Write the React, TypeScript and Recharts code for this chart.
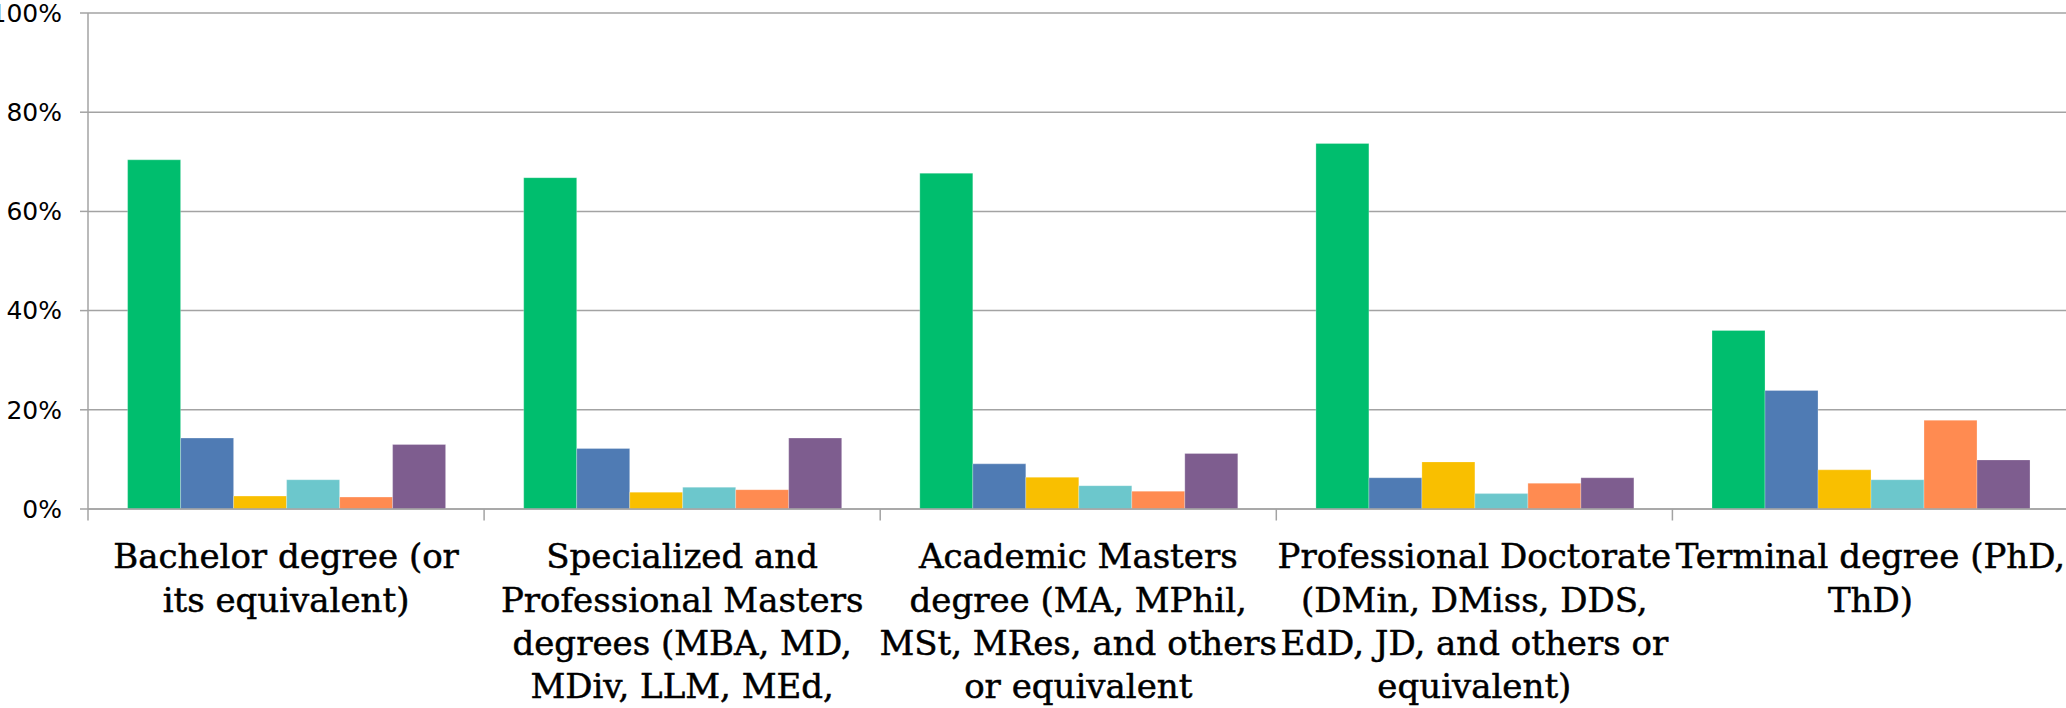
import { BarChart, Bar, XAxis, YAxis, CartesianGrid } from 'recharts'

// Degree categories (line breaks as they wrap under the axis)
const categories = [
  'Bachelor degree (or\nits equivalent)',
  'Specialized and\nProfessional Masters\ndegrees (MBA, MD,\nMDiv, LLM, MEd,',
  'Academic Masters\ndegree (MA, MPhil,\nMSt, MRes, and others\nor equivalent',
  'Professional Doctorate\n(DMin, DMiss, DDS,\nEdD, JD, and others or\nequivalent)',
  'Terminal degree (PhD,\nThD)',
]

// Six response series, percent of respondents
const series1 = [70.4, 66.8, 67.7, 73.7, 36.0]
const series2 = [14.3, 12.2, 9.1, 6.3, 23.9]
const series3 = [2.6, 3.4, 6.4, 9.5, 7.9]
const series4 = [5.9, 4.4, 4.7, 3.1, 5.9]
const series5 = [2.4, 3.9, 3.6, 5.2, 17.9]
const series6 = [13.0, 14.3, 11.2, 6.3, 9.9]

const yTicks = [0, 20, 40, 60, 80, 100]

const SERIES = [
  { key: 's1', values: series1, color: '#00BE6E' },
  { key: 's2', values: series2, color: '#4F7BB4' },
  { key: 's3', values: series3, color: '#F9BF00' },
  { key: 's4', values: series4, color: '#6CC7CC' },
  { key: 's5', values: series5, color: '#FF8B51' },
  { key: 's6', values: series6, color: '#7E5D8F' },
]

const data = categories.map((name, i) => {
  const row: { [k: string]: string | number } = { name }
  SERIES.forEach((s) => {
    row[s.key] = s.values[i]
  })
  return row
})

const CHART_W = 2070
const CHART_H = 708
const Y_AXIS_W = 88
const MARGIN = { top: 13, right: 1.5, bottom: 0, left: 0 }
const GRID = '#a3a3a3'
const BAND = (CHART_W - Y_AXIS_W - MARGIN.left - MARGIN.right) / categories.length

// Category label: wrapped lines plus the divider tick on the band's left edge
function CategoryTick({ x, y, payload }: { x?: number; y?: number; payload?: { value: string } }) {
  if (x == null || y == null || !payload) return null
  const lines = String(payload.value).split('\n')
  const left = x - BAND / 2
  return (
    <g>
      <line x1={left} y1={y} x2={left} y2={y + 11.5} stroke={GRID} strokeWidth={1.5} />
      <text
        x={x}
        textAnchor="middle"
        fontFamily="'DejaVu Serif', serif"
        fontSize={34}
        fill="#000"
        stroke="#000"
        strokeWidth={0.5}
      >
        {lines.map((line, i) => (
          <tspan key={i} x={x} y={y + 59.3 + i * 43.3}>
            {line}
          </tspan>
        ))}
      </text>
    </g>
  )
}

export default function App() {
  return (
    <div
      style={{
        position: 'absolute',
        left: 0,
        top: 0,
        width: 2066,
        height: 708,
        overflow: 'hidden',
        background: '#fff',
      }}
    >
      <BarChart
        width={CHART_W}
        height={CHART_H}
        data={data}
        margin={MARGIN}
        barCategoryGap="10%"
        barGap={0}
      >
        <CartesianGrid vertical={false} stroke={GRID} strokeWidth={1.5} />
        <XAxis
          dataKey="name"
          interval={0}
          height={CHART_H - 509}
          tickLine={false}
          tickSize={0}
          tickMargin={0}
          axisLine={{ stroke: GRID, strokeWidth: 1.5 }}
          tick={<CategoryTick />}
        />
        <YAxis
          width={Y_AXIS_W}
          domain={[0, 100]}
          ticks={yTicks}
          interval={0}
          tickFormatter={(v) => `${v}%`}
          tickSize={8}
          tickMargin={18}
          tickLine={{ stroke: GRID, strokeWidth: 1.5 }}
          axisLine={{ stroke: GRID, strokeWidth: 1.5 }}
          tick={{ fill: '#000', fontSize: 25, fontFamily: "'DejaVu Sans', sans-serif" }}
        />
        {SERIES.map((s) => (
          <Bar
            key={s.key}
            dataKey={s.key}
            fill={s.color}
            stroke="#ffffff"
            strokeOpacity={0.35}
            strokeWidth={0.75}
            isAnimationActive={false}
          />
        ))}
      </BarChart>
    </div>
  )
}
